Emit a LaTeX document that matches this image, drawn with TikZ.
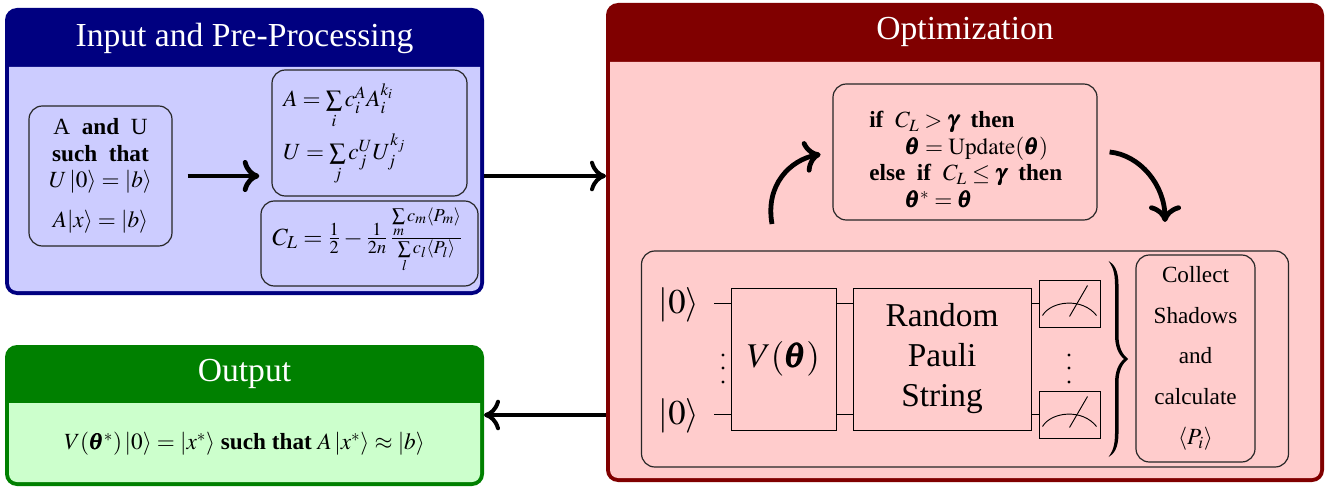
\documentclass[tikz,border=0pt]{standalone}
\usepackage{amsmath}
\usepackage{mathptmx}
\usepackage[no-math]{fontspec}
\setmainfont{Liberation Serif}
\usetikzlibrary{arrows.meta,calc}
\definecolor{bluedark}{HTML}{000080}
\definecolor{bluelight}{HTML}{CCCCFF}
\definecolor{reddark}{HTML}{800000}
\definecolor{redlight}{HTML}{FFCCCC}
\definecolor{greendark}{HTML}{008000}
\definecolor{greenlight}{HTML}{CCFFCC}
\newcommand{\pxw}{0.75pt}
\newcommand{\kt}[1]{\left|#1\right\rangle}
\newcommand{\bth}{\pmb{\theta}}
\tikzset{
  x=0.75pt,y=-0.75pt,
  panel/.style={rectangle,rounded corners=9pt,inner sep=0pt,outer sep=0pt,draw=none},
  paneltitle/.style={text=white,font=\fontsize{25.2}{28}\selectfont,inner sep=0pt},
  softbox/.style={rectangle,draw=black!85,line width=0.9pt,rounded corners=10pt,inner sep=0pt,font=\fontsize{17.4}{20}\selectfont},
  gatebox/.style={rectangle,draw=black,line width=0.7pt,inner sep=0pt},
  wire/.style={draw=black,line width=0.7pt},
  flow/.style={draw=black,line width=3pt,-{Computer Modern Rightarrow[length=12pt,width=23pt,line width=3pt]}},
  heavyflow/.style={draw=black,line width=3.6pt,-{Computer Modern Rightarrow[length=12.5pt,width=24pt,line width=3.6pt]}},
  label/.style={inner sep=0pt},
}
\begin{document}
\begin{tikzpicture}
\useasboundingbox (0,0) rectangle (1338,488);
\fill[white] (0,0) rectangle (1338,488);
% panels
\node[panel,fill=bluedark,minimum width=479*\pxw,minimum height=287*\pxw] (inp) at (244.5,151.5) {};
\fill[bluelight] (9,67) -- (480,67) [rounded corners=6pt] -- (480,291) -- (9,291) [sharp corners] -- cycle;
\node[paneltitle] (inptitle) at (244.5,38) {Input and Pre-Processing};
\node[panel,fill=reddark,minimum width=718*\pxw,minimum height=479*\pxw] (opt) at (965,242.5) {};
\fill[redlight] (610,62) -- (1320,62) [rounded corners=6pt] -- (1320,478) -- (610,478) [sharp corners] -- cycle;
\node[paneltitle] (opttitle) at (965,32) {Optimization};
\node[panel,fill=greendark,minimum width=479*\pxw,minimum height=141*\pxw] (outp) at (244.5,415.5) {};
\fill[greenlight] (9,403) -- (480,403) [rounded corners=6pt] -- (480,482) -- (9,482) [sharp corners] -- cycle;
\node[paneltitle] (outtitle) at (244.5,374) {Output};
% input
\node[softbox,minimum width=143*\pxw,minimum height=140*\pxw,align=center] (given) at (100.5,176) {A \ \textbf{and} \ U\\[0pt]\textbf{such \ that}\\[0pt]$U\kt{0}=\kt{b}$\\[10pt]$A|x\rangle=\kt{b}$};
\node[softbox,minimum width=195*\pxw,minimum height=126*\pxw] (decomp) at (369.5,133) {};
\node[label,anchor=base west,font=\fontsize{17.4}{20}\selectfont] (Aeq) at (283,107) {$A=\sum\limits_i c_i^A A_i^{k_i}$};
\node[label,anchor=base west,font=\fontsize{17.4}{20}\selectfont] (Ueq) at (283,160) {$U=\sum\limits_j c_j^U U_j^{k_j}$};
\node[softbox,minimum width=217*\pxw,minimum height=85*\pxw] (cost) at (369.5,243.5) {};
\node[label,font=\fontsize{18.5}{22}\selectfont] (costeq) at (367.5,240) {$C_L=\frac{1}{2}-\frac{1}{2n}\,\frac{\sum\limits_{m} c_m\langle P_m\rangle}{\sum\limits_{l} c_l\langle P_l\rangle}$};
\draw[heavyflow,shorten >=9pt] (given.east) ++(15,0) coordinate (g1) (g1) -- (decomp.west |- g1);
% output
\node[label,font=\fontsize{17.4}{20}\selectfont] (result) at (244.5,444) {$V(\bth^*)\kt{0}=\kt{x^*}$ \textbf{such that} $A\kt{x^*}\approx\kt{b}$};
% flow between panels
\coordinate (a1) at (inp.east |- 0,176);
\coordinate (a2) at (opt.west |- 0,415);
\draw[flow] (a1) -- (opt.west |- a1);
\draw[flow] (a2) -- (inp.east |- a2);
% loop
\node[softbox,minimum width=264*\pxw,minimum height=136*\pxw] (rule) at (965,152) {};
\node[label,anchor=north west,align=left,font=\fontsize{17.4}{20}\selectfont] (ruletext) at (869,111) {\textbf{if} \ $C_L>\pmb{\gamma}$ \ \textbf{then}\\\hspace*{27pt}$\bth=\mathrm{Update}(\bth)$\\\textbf{else} \ \textbf{if} \ $C_L\le\pmb{\gamma}$ \ \textbf{then}\\\hspace*{27pt}$\bth^*=\bth$};
\node[softbox,minimum width=647*\pxw,minimum height=216*\pxw] (circuit) at (965,359) {};
\coordinate (lp1) at (772,224);
\coordinate (lp2) at (1109,152);
\coordinate (lp3) at (1165,222);
\draw[heavyflow,shorten >=9pt] (lp1) .. controls (765,185) and (790,160) .. (rule.west |- 0,152);
\draw[heavyflow] (rule.east |- lp2) ++(12,0) .. controls (1140,155) and (1165,185) .. (lp3);
% circuit
\node[label,font=\fontsize{26}{28}\selectfont] (q1) at (679,305) {$\kt{0}$};
\node[label,font=\fontsize{26}{28}\selectfont] (q2) at (679,416) {$\kt{0}$};
\node[gatebox,minimum width=105*\pxw,minimum height=142*\pxw,font=\fontsize{26}{28}\selectfont] (vg) at (783.5,359) {$V(\bth)$};
\node[gatebox,minimum width=178*\pxw,minimum height=142*\pxw,align=center,font=\fontsize{25}{30}\selectfont] (rp) at (942,359) {Random\\Pauli\\String};
\node[gatebox,minimum width=61*\pxw,minimum height=47*\pxw] (m1) at (1069.5,303.5) {};
\node[gatebox,minimum width=61*\pxw,minimum height=47*\pxw] (m2) at (1069.5,414.5) {};
\foreach \m in {m1,m2}{
  \draw[wire] ($(\m.center)+(-27,12)$) .. controls ($(\m.center)+(-18,-3)$) and ($(\m.center)+(13,-6)$) .. ($(\m.center)+(27,12)$);
  \draw[wire] ($(\m.center)+(0,13)$) -- ($(\m.center)+(18,-18)$);
}
\coordinate (w1) at (714,303);
\coordinate (w2) at (714,414);
\draw[wire] (w1) -- (vg.west |- w1);
\draw[wire] (w2) -- (vg.west |- w2);
\draw[wire] (vg.east |- w1) -- (rp.west |- w1);
\draw[wire] (vg.east |- w2) -- (rp.west |- w2);
\draw[wire] (rp.east |- w1) -- (m1.west |- w1);
\draw[wire] (rp.east |- w2) -- (m2.west |- w2);
\foreach \xx in {723,1069}{
  \foreach \yy in {355,368,382}{ \fill[black] (\xx,\yy) circle (1.3pt); }
}
% brace
\fill[black] (1108.6,261) .. controls (1114,264) and (1118.5,270) .. (1118.5,285) -- (1118.5,335)
  .. controls (1118.5,347) and (1122,354) .. (1128,359)
  .. controls (1122,364) and (1118.5,371) .. (1118.5,383) -- (1118.5,433)
  .. controls (1118.5,448) and (1114,454) .. (1108.6,457)
  .. controls (1112,452) and (1115,447) .. (1115,433) -- (1115,383)
  .. controls (1115,372) and (1118,364) .. (1124,359)
  .. controls (1118,354) and (1115,346) .. (1115,335) -- (1115,285)
  .. controls (1115,271) and (1112,266) .. (1108.6,261) -- cycle;
\node[softbox,minimum width=119*\pxw,minimum height=207*\pxw,align=center,font=\fontsize{17.4}{30.4}\selectfont] (collect) at (1195.5,358.5) {\rule{0pt}{2pt}Collect\\Shadows\\and\\calculate\\$\langle P_i\rangle$};
\end{tikzpicture}
\end{document}
